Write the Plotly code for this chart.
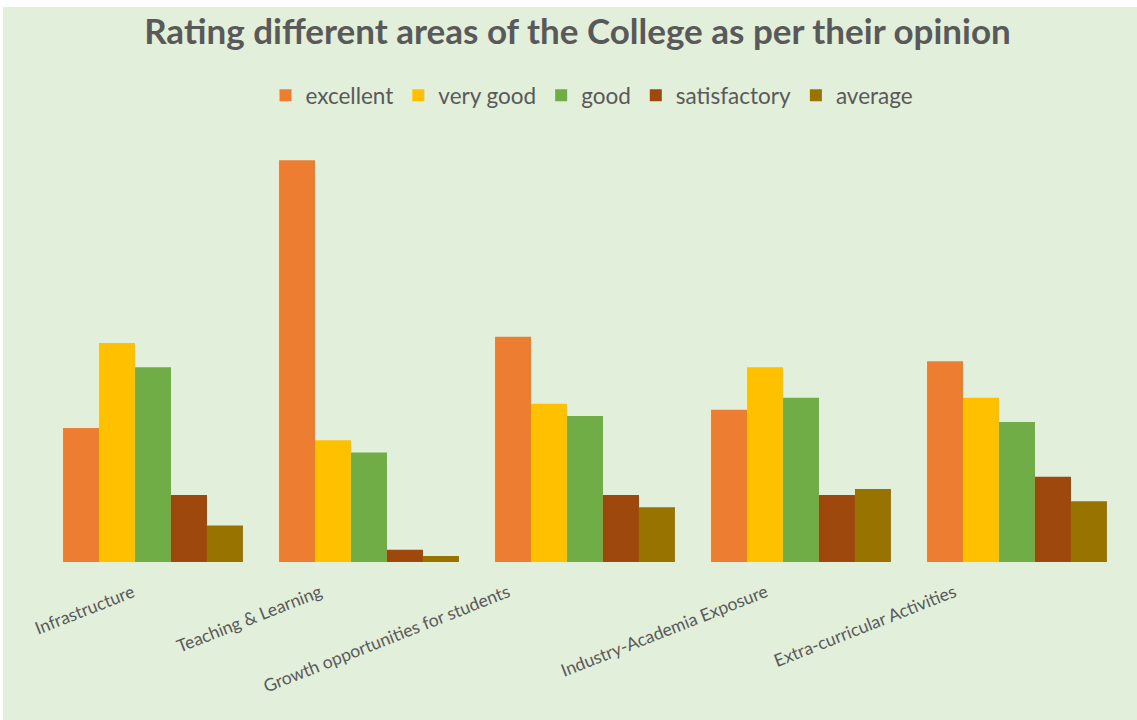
import plotly.graph_objects as go

categories = ["Infrastructure", "Teaching & Learning", "Growth opportunities for students",
              "Industry-Academia Exposure", "Extra-curricular Activities"]
series_names = ["excellent", "very good", "good", "satisfactory", "average"]
excellent = [22, 66, 37, 25, 33]
very_good = [36, 20, 26, 32, 27]
good = [32, 18, 24, 27, 23]
satisfactory = [11, 2, 11, 11, 14]
average = [6, 1, 9, 12, 10]
colors = ["#ED7D31", "#FFC000", "#70AD47", "#9E480E", "#997300"]

values = [excellent, very_good, good, satisfactory, average]

# horizontal offsets (px) of the rotated category labels relative to their category centre
label_dx = [-13, -42, -70, -28, -55]

fig = go.Figure()
for name, vals, col in zip(series_names, values, colors):
    fig.add_trace(go.Bar(x=categories, y=vals, name=name,
                         marker=dict(color=col, line=dict(width=0))))

FONT = "Lato"
GRAY = "#595959"
BG = "#E2EFDA"

annotations = []
for cat, dx in zip(categories, label_dx):
    annotations.append(dict(x=cat, y=0, xref="x", yref="y", text=cat, showarrow=False,
                            textangle=-21.5, xanchor="right", yanchor="top",
                            xshift=dx, yshift=-16,
                            font=dict(family=FONT, size=17.5, color=GRAY)))

fig.update_layout(
    width=1134, height=713,
    barmode="group", bargap=0.167, bargroupgap=0,
    paper_bgcolor=BG, plot_bgcolor=BG,
    margin=dict(l=42, r=12, t=128.5, b=157.5, autoexpand=False),
    title=dict(text="<b>Rating different areas of the College as per their opinion</b>",
               x=0.5066, xanchor="center", y=0.965, yanchor="middle", xref="container",
               yref="container",
               font=dict(family=FONT, size=35, color=GRAY)),
    legend=dict(orientation="h", x=0.5065, xanchor="center", y=1.095, yanchor="middle",
                font=dict(family=FONT, size=22.5, color=GRAY), bgcolor="rgba(0,0,0,0)",
                traceorder="normal"),
    xaxis=dict(range=[-0.5, len(categories) - 0.5], autorange=False,
               showgrid=False, showline=False, zeroline=False, showticklabels=False,
               ticks=""),
    yaxis=dict(range=[0, 70], autorange=False, visible=False, showgrid=False),
    annotations=annotations,
)

fig.write_html("out.html",
               post_script="document.body.style.margin='7px 0 0 3px';"
                           "document.body.style.overflow='hidden';")
